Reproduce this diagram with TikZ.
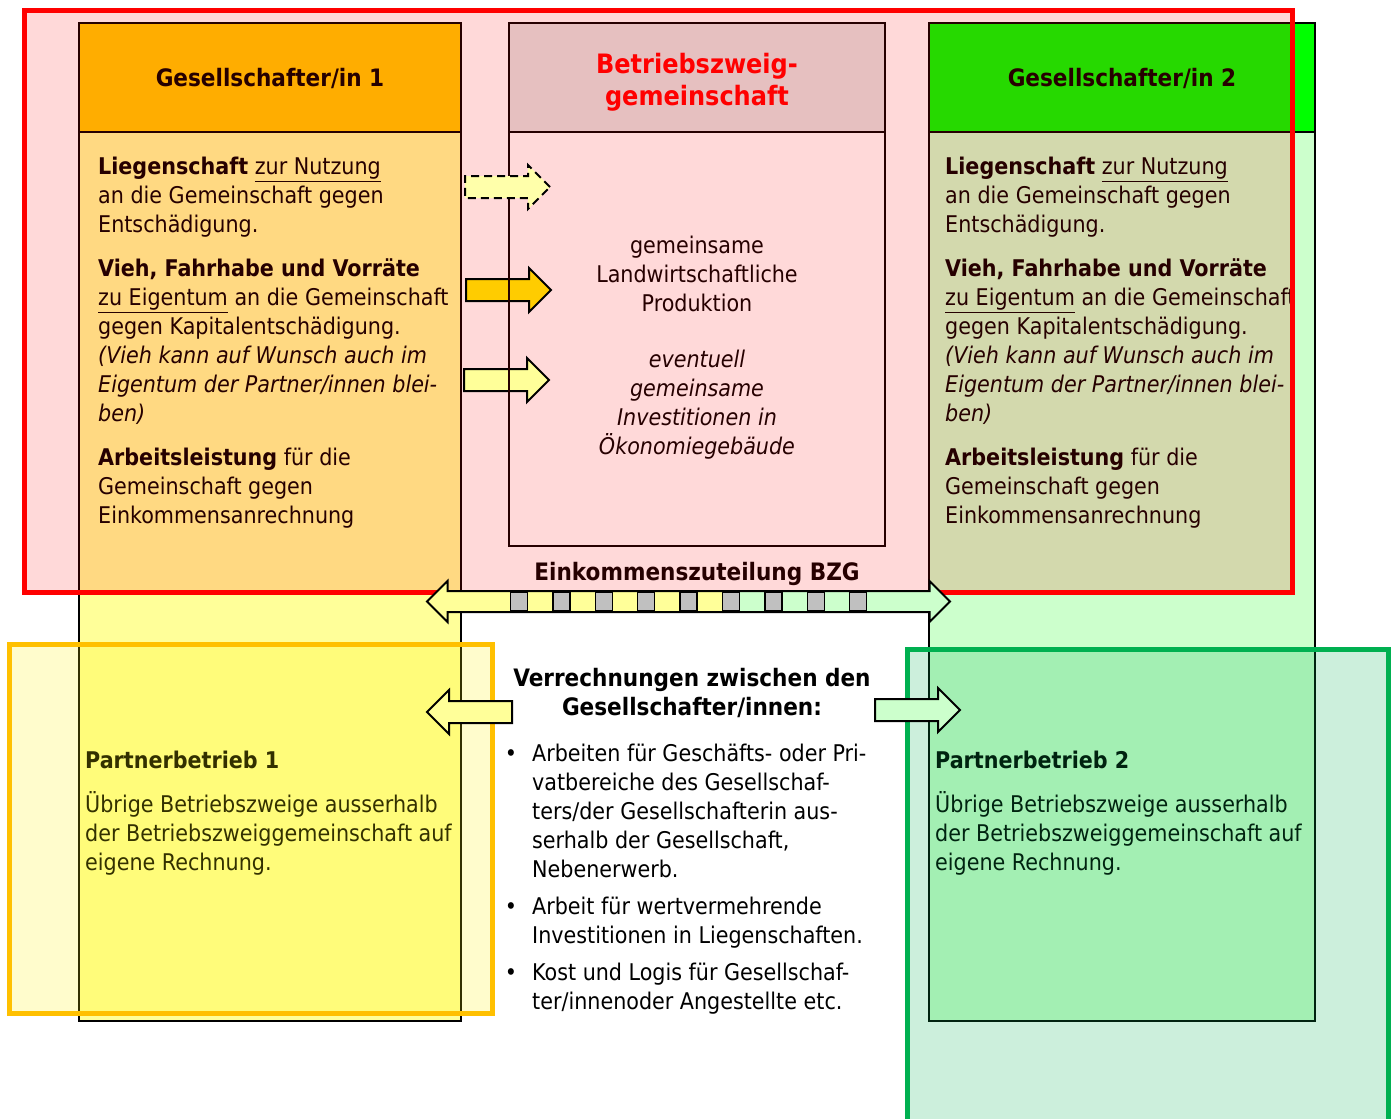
\documentclass[tikz,border=0pt]{standalone}
\usepackage{fontspec}
\setmainfont{DejaVu Sans Condensed}
\usepackage{xcolor}
\usetikzlibrary{shapes.arrows,positioning}
\definecolor{gsorange}{HTML}{FFCC00}
\definecolor{gsyellow}{HTML}{FFFF99}
\definecolor{gsgreen}{HTML}{00FF00}
\definecolor{gslightgreen}{HTML}{CCFFCC}
\definecolor{bzggray}{HTML}{E2E2E2}
\definecolor{framered}{HTML}{FF0000}
\definecolor{frameyellow}{HTML}{FFC000}
\definecolor{framegreen}{HTML}{00B050}
\definecolor{arrowpale}{HTML}{FFFFAA}
\definecolor{cellgray}{HTML}{C0C0C0}
\definecolor{darkline}{HTML}{260000}
\tikzset{
  colbox/.style={draw=black,line width=2pt},
  headtext/.style={font=\bfseries\fontsize{24}{29}\selectfont,align=center,inner sep=0pt},
  bodytext/.style={font=\fontsize{23}{29}\selectfont,align=left,anchor=north west,
    inner sep=0pt,execute at begin node=\strut},
  midtext/.style={font=\fontsize{23}{29}\selectfont,align=center,anchor=north,
    inner sep=0pt,execute at begin node=\strut},
  tintframe/.style={line width=5pt,fill opacity=#1},
  blockarrow/.style={single arrow,draw=black,line width=2pt,inner xsep=0pt,inner ysep=10pt,
    minimum width=42pt,single arrow head extend=11pt,minimum height=85pt,anchor=tail}
}
\begin{document}
\begin{tikzpicture}[x=1pt,y=-1pt]
\useasboundingbox (0,0) rectangle (1395,1119);
\clip (0,0) rectangle (1395,1119);
% columns
\draw[colbox,fill=gsyellow] (79,23) rectangle (461,1021);
\draw[colbox,fill=gsorange] (79,23) rectangle (461,132);
\draw[colbox,fill=white] (509,23) rectangle (885,546);
\draw[colbox,fill=bzggray] (509,23) rectangle (885,132);
\draw[colbox,fill=gslightgreen] (929,23) rectangle (1315,1021);
\draw[colbox,fill=gsgreen] (929,23) rectangle (1315,132);
% headers
\node[headtext] (gs1) at (270,78) {Gesellschafter/in 1};
\node[headtext] (gs2) at (1122,78) {Gesellschafter/in 2};
\node[headtext,text=framered,font=\bfseries\fontsize{26.7}{32}\selectfont] (bzg) at (697,82)
  {Betriebszweig-\\gemeinschaft};
% contributions
\node[bodytext] (beitrag1) at (98,157) {\textbf{Liegenschaft} \underline{zur Nutzung}\\
  an die Gemeinschaft gegen\\Entschädigung.\\[15pt]
  \textbf{Vieh, Fahrhabe und Vorräte}\\\underline{zu Eigentum} an die Gemeinschaft\\
  gegen Kapitalentschädigung.\\\textit{(Vieh kann auf Wunsch auch im}\\
  \textit{Eigentum der Partner/innen blei-}\\\textit{ben)}\\[15pt]
  \textbf{Arbeitsleistung} für die\\Gemeinschaft gegen\\Einkommensanrechnung};
\node[bodytext] (beitrag2) at (945,157) {\textbf{Liegenschaft} \underline{zur Nutzung}\\
  an die Gemeinschaft gegen\\Entschädigung.\\[15pt]
  \textbf{Vieh, Fahrhabe und Vorräte}\\\underline{zu Eigentum} an die Gemeinschaft\\
  gegen Kapitalentschädigung.\\\textit{(Vieh kann auf Wunsch auch im}\\
  \textit{Eigentum der Partner/innen blei-}\\\textit{ben)}\\[15pt]
  \textbf{Arbeitsleistung} für die\\Gemeinschaft gegen\\Einkommensanrechnung};
\node[midtext] (prod) at (697,236) {gemeinsame\\Landwirtschaftliche\\Produktion};
\node[midtext,font=\itshape\fontsize{23}{29}\selectfont] (invest) at (697,350)
  {eventuell\\gemeinsame\\Investitionen in\\Ökonomiegebäude};
\node[headtext] (einkommen) at (697,574) {Einkommenszuteilung BZG};
% settlements
\node[midtext,font=\bfseries\fontsize{24}{29}\selectfont] (verr) at (692,668)
  {Verrechnungen zwischen den\\Gesellschafter/innen:};
\node[bodytext] (verrlist) at (532,744) {\llap{\textbullet\hspace{15pt}}Arbeiten für Geschäfts- oder Pri-\\
  vatbereiche des Gesellschaf-\\ters/der Gesellschafterin aus-\\serhalb der Gesellschaft,\\
  Nebenerwerb.\\[8pt]
  \llap{\textbullet\hspace{15pt}}Arbeit für wertvermehrende\\Investitionen in Liegenschaften.\\[8pt]
  \llap{\textbullet\hspace{15pt}}Kost und Logis für Gesellschaf-\\ter/innenoder Angestellte etc.};
% partner farms
\node[bodytext] (pb1) at (85,751) {\textbf{Partnerbetrieb 1}\\[15pt]
  Übrige Betriebszweige ausserhalb\\der Betriebszweiggemeinschaft auf\\eigene Rechnung.};
\node[bodytext] (pb2) at (935,751) {\textbf{Partnerbetrieb 2}\\[15pt]
  Übrige Betriebszweige ausserhalb\\der Betriebszweiggemeinschaft auf\\eigene Rechnung.};
% frames
\draw[tintframe=0.15,draw=framered,fill=framered] (24,10) rectangle (1292,592.5);
\draw[tintframe=0.2,draw=frameyellow,fill=yellow] (9,644.5) rectangle (492.5,1013);
\draw[tintframe=0.2,draw=framegreen,fill=framegreen] (907,649.5) rectangle (1388.5,1140);
% arrows
\node[blockarrow,fill=gsorange] (vieh) at (465,290) {};
\node[blockarrow,fill=gsyellow] (arbeit) at (463,380) {};
\draw[darkline,line width=2pt] (509,250) -- (509,420);
\node[blockarrow,fill=arrowpale,dash pattern=on 8pt off 5pt] (land) at (464,187) {};
\node[double arrow,draw=black,line width=2pt,inner xsep=0pt,inner ysep=9.5pt,minimum width=40pt,
  double arrow head extend=10pt,minimum height=523pt,fill=gsyellow,
  path picture={\fill[gslightgreen] ([xshift=41pt]path picture bounding box.south)
    rectangle (path picture bounding box.north east);}] (zuteilung) at (688.5,601.5) {};
\foreach \i in {0,...,8}
  \draw[fill=cellgray,line width=1.5pt] ({510.5+42.4*\i},592) rectangle +(17,19);
\node[blockarrow,fill=gsyellow,shape border rotate=180] (links) at (513,712) {};
\node[blockarrow,fill=gslightgreen] (rechts) at (874,710) {};
\end{tikzpicture}
\end{document}
